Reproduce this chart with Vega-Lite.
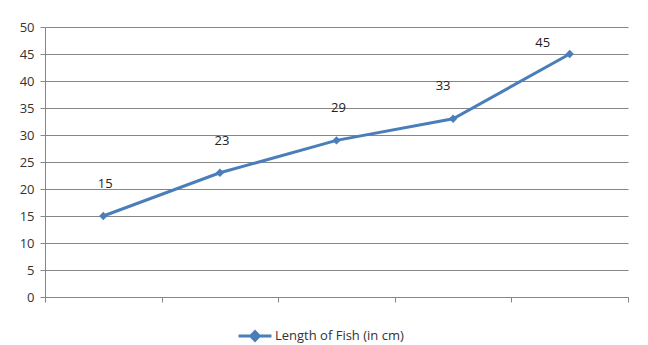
{
  "$schema": "https://vega.github.io/schema/vega-lite/v6.json",
  "width": 583,
  "height": 270,
  "autosize": {"type": "none"},
  "padding": {"left": 45, "top": 27, "right": 20, "bottom": 48},
  "background": "white",
  "config": {
    "view": {"stroke": null},
    "font": "Open Sans"
  },
  "data": {
    "values": [
      {"cat": "1", "value": 15, "series": "Length of Fish (in cm)"},
      {"cat": "2", "value": 23, "series": "Length of Fish (in cm)"},
      {"cat": "3", "value": 29, "series": "Length of Fish (in cm)"},
      {"cat": "4", "value": 33, "series": "Length of Fish (in cm)"},
      {"cat": "5", "value": 45, "series": "Length of Fish (in cm)"}
    ]
  },
  "encoding": {
    "x": {
      "field": "cat", "type": "ordinal",
      "scale": {"paddingInner": 0, "paddingOuter": 0},
      "axis": {
        "title": null, "labels": false, "tickBand": "extent",
        "domainColor": "#868686", "tickColor": "#868686", "tickSize": 5, "grid": false
      }
    },
    "y": {
      "field": "value", "type": "quantitative",
      "scale": {"domain": [0, 50], "nice": false},
      "axis": {
        "title": null, "values": [0,5,10,15,20,25,30,35,40,45,50],
        "gridColor": "#868686", "domainColor": "#868686", "tickColor": "#868686",
        "tickSize": 5, "labelPadding": 6, "labelFontSize": 13, "labelColor": "#333333",
        "labelFont": "Open Sans"
      }
    }
  },
  "layer": [
    {
      "mark": {"type": "line", "strokeWidth": 3, "color": "#4a7ebb"},
      "encoding": {
        "color": {
          "field": "series", "type": "nominal",
          "scale": {"range": ["#4a7ebb"]},
          "legend": {
            "title": null, "orient": "none", "legendX": 192, "legendY": 291,
            "padding": 0,
            "symbolType": "M-1,0L1,0M-0.26,0L0,-0.26L0.26,0L0,0.26Z",
            "symbolSize": 1089, "symbolStrokeWidth": 3,
            "symbolFillColor": "#4a7ebb", "symbolStrokeColor": "#4a7ebb",
            "labelFontSize": 13, "labelColor": "#333333", "labelFont": "Open Sans",
            "labelOffset": 2
          }
        }
      }
    },
    {
      "mark": {"type": "point", "shape": "diamond", "filled": true, "size": 70, "color": "#4a7ebb", "opacity": 1}
    },
    {
      "transform": [{"filter": "datum.value < 33"}],
      "mark": {"type": "text", "dy": -32, "dx": 2, "fontSize": 13, "color": "#222222", "font": "Open Sans"},
      "encoding": {"text": {"field": "value", "type": "quantitative"}}
    },
    {
      "transform": [{"filter": "datum.value == 33"}],
      "mark": {"type": "text", "dy": -33, "dx": -10, "fontSize": 13, "color": "#222222", "font": "Open Sans"},
      "encoding": {"text": {"field": "value", "type": "quantitative"}}
    },
    {
      "transform": [{"filter": "datum.value >= 45"}],
      "mark": {"type": "text", "dy": -11, "dx": -27, "fontSize": 13, "color": "#222222", "font": "Open Sans"},
      "encoding": {"text": {"field": "value", "type": "quantitative"}}
    }
  ]
}
